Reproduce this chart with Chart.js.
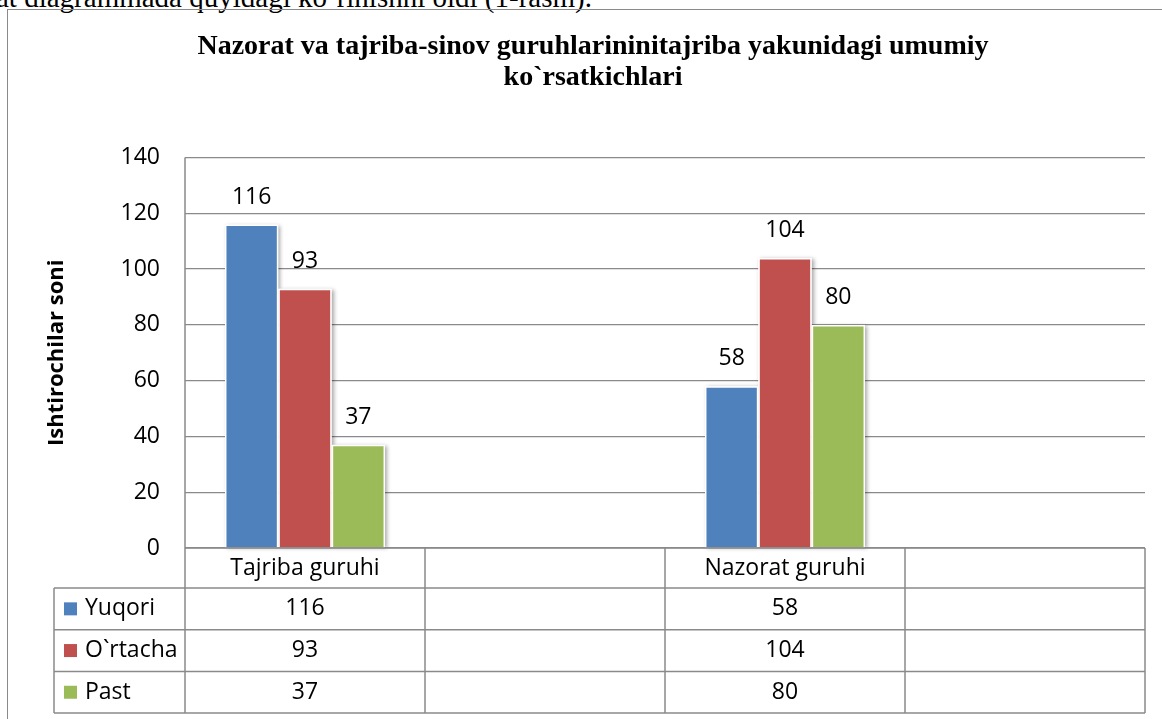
<!DOCTYPE html>
<html lang="uz">
<head>
    <meta charset="UTF-8">
    <title>Nazorat va tajriba-sinov guruhlari</title>
    <style>
        body {
            margin: 0;
            padding: 0;
            width: 1162px;
            height: 719px;
            overflow: hidden;
            background: #fff;
            position: relative;
        }

        .doc-line {
            position: absolute;
            left: -4px;
            top: -17px;
            font-family: "Liberation Serif", serif;
            font-size: 29px;
            line-height: 29px;
            color: #000;
            white-space: nowrap;
        }

        .chart-frame {
            position: absolute;
            left: 7px;
            top: 9px;
            width: 1300px;
            height: 1000px;
            border: 1.5px solid #8a8a8a;
        }

        #chart {
            position: absolute;
            left: 0;
            top: 0;
        }
    </style>
    <script src="https://cdn.jsdelivr.net/npm/chart.js"></script>
</head>
<body>
    <div class="doc-line">at diagrammada quyidagi ko`rinishni oldi (1-rasm).</div>
    <div class="chart-frame"></div>
    <canvas id="chart" width="1162" height="719"></canvas>

<script>
    // chart data
    var categories = ['Tajriba guruhi', '', 'Nazorat guruhi', ''];
    var seriesNames = ['Yuqori', 'O`rtacha', 'Past'];
    var yuqori = [116, null, 58, null];
    var ortacha = [93, null, 104, null];
    var past = [37, null, 80, null];
    var seriesColors = ['#4F81BD', '#C0504D', '#9BBB59'];
    var yMin = 0, yMax = 140, yStep = 20;

    var titleLines = ['Nazorat va tajriba-sinov guruhlarininitajriba yakunidagi umumiy', 'ko`rsatkichlari'];
    var yTitle = 'Ishtirochilar soni';

    var textFont = '"Open Sans", sans-serif';
    var lineColor = '#8a8a8a';

    // soft shadow under each bar
    var barShadow = {
        id: 'barShadow',
        beforeDatasetsDraw: function(chart) {
            var ctx = chart.ctx;
            ctx.save();
            ctx.shadowColor = 'rgba(0, 0, 0, 0.35)';
            ctx.shadowBlur = 4;
            ctx.shadowOffsetX = 2;
            ctx.shadowOffsetY = 1;
            ctx.fillStyle = '#fff';
            chart.data.datasets.forEach(function(ds, i) {
                chart.getDatasetMeta(i).data.forEach(function(bar, j) {
                    if (ds.data[j] == null) return;
                    var p = bar.getProps(['x', 'y', 'base', 'width'], true);
                    ctx.fillRect(p.x - p.width / 2, p.y, p.width, p.base - p.y);
                });
            });
            ctx.restore();
        }
    };

    // numbers above the bars
    var valueLabels = {
        id: 'valueLabels',
        afterDatasetsDraw: function(chart) {
            var ctx = chart.ctx;
            ctx.save();
            ctx.font = '23px ' + textFont;
            ctx.fillStyle = '#000';
            ctx.textAlign = 'center';
            ctx.textBaseline = 'alphabetic';
            chart.data.datasets.forEach(function(ds, i) {
                chart.getDatasetMeta(i).data.forEach(function(bar, j) {
                    if (ds.data[j] == null) return;
                    ctx.fillText(ds.data[j], bar.x, bar.y - 21);
                });
            });
            ctx.restore();
        }
    };

    // data table under the plot, like in Excel
    var dataTable = {
        id: 'dataTable',
        afterDraw: function(chart) {
            var ctx = chart.ctx;
            var x = chart.scales.x;
            var area = chart.chartArea;
            var colW = (x.right - x.left) / categories.length;
            var top = area.bottom;
            var headH = 40, rowH = 41.7;
            var tableLeft = 54;
            var bottom = top + headH + rowH * seriesNames.length;

            ctx.save();
            ctx.strokeStyle = lineColor;
            ctx.lineWidth = 1.5;
            ctx.beginPath();
            // header row
            ctx.moveTo(area.left, top);
            ctx.lineTo(x.right, top);
            // data rows
            for (var r = 0; r <= seriesNames.length; r++) {
                var yy = top + headH + r * rowH;
                ctx.moveTo(tableLeft, yy);
                ctx.lineTo(x.right, yy);
            }
            // verticals
            ctx.moveTo(tableLeft, top + headH);
            ctx.lineTo(tableLeft, bottom);
            ctx.moveTo(area.left, area.top);
            ctx.lineTo(area.left, bottom);
            for (var c = 0; c < categories.length; c++) {
                var xr = x.getPixelForValue(c) + colW / 2;
                ctx.moveTo(xr, top);
                ctx.lineTo(xr, bottom);
            }
            ctx.stroke();

            ctx.font = '23px ' + textFont;
            ctx.fillStyle = '#000';
            ctx.textBaseline = 'middle';
            ctx.textAlign = 'center';
            categories.forEach(function(cat, c) {
                ctx.fillText(cat, x.getPixelForValue(c), top + headH / 2);
            });

            chart.data.datasets.forEach(function(ds, i) {
                var cy = top + headH + rowH * i + rowH / 2;
                ctx.fillStyle = seriesColors[i];
                ctx.fillRect(tableLeft + 10, cy - 6.5, 13, 13);
                ctx.fillStyle = '#000';
                ctx.textAlign = 'left';
                ctx.fillText(ds.label, tableLeft + 31, cy);
                ctx.textAlign = 'center';
                ds.data.forEach(function(v, j) {
                    if (v == null) return;
                    ctx.fillText(v, x.getPixelForValue(j), cy);
                });
            });
            ctx.restore();
        }
    };

    var seriesData = [yuqori, ortacha, past];
    var datasets = seriesNames.map(function(name, i) {
        return {
            label: name,
            data: seriesData[i],
            backgroundColor: seriesColors[i],
            borderColor: '#ffffff',
            borderWidth: 1.5,
            categoryPercentage: 0.667,
            barPercentage: 1.0
        };
    });

    var ctx = document.getElementById('chart').getContext('2d');
    var myChart = new Chart(ctx, {
        type: 'bar',
        data: {
            labels: categories,
            datasets: datasets
        },
        options: {
            responsive: false,
            animation: false,
            layout: {
                padding: { left: 41, right: 17, top: 0, bottom: 171 }
            },
            plugins: {
                legend: { display: false },
                tooltip: { enabled: false },
                title: {
                    display: true,
                    text: titleLines,
                    color: '#000',
                    font: { family: '"Liberation Serif", serif', size: 28, weight: 'bold', lineHeight: 1.1 },
                    padding: { top: 31.5, bottom: 64.5 }
                }
            },
            scales: {
                x: {
                    display: false
                },
                y: {
                    min: yMin,
                    max: yMax,
                    ticks: {
                        stepSize: yStep,
                        color: '#000',
                        padding: 25,
                        font: { family: textFont, size: 23 }
                    },
                    grid: {
                        color: lineColor,
                        lineWidth: 1.3,
                        drawTicks: false
                    },
                    border: {
                        display: false
                    },
                    title: {
                        display: true,
                        text: yTitle,
                        color: '#000',
                        font: { family: textFont, size: 22, weight: 'bold' },
                        padding: { top: 3, bottom: 0 }
                    },
                    afterFit: function(scale) {
                        scale.width = 144;
                    }
                }
            }
        },
        plugins: [barShadow, valueLabels, dataTable]
    });
</script>
</body>
</html>
